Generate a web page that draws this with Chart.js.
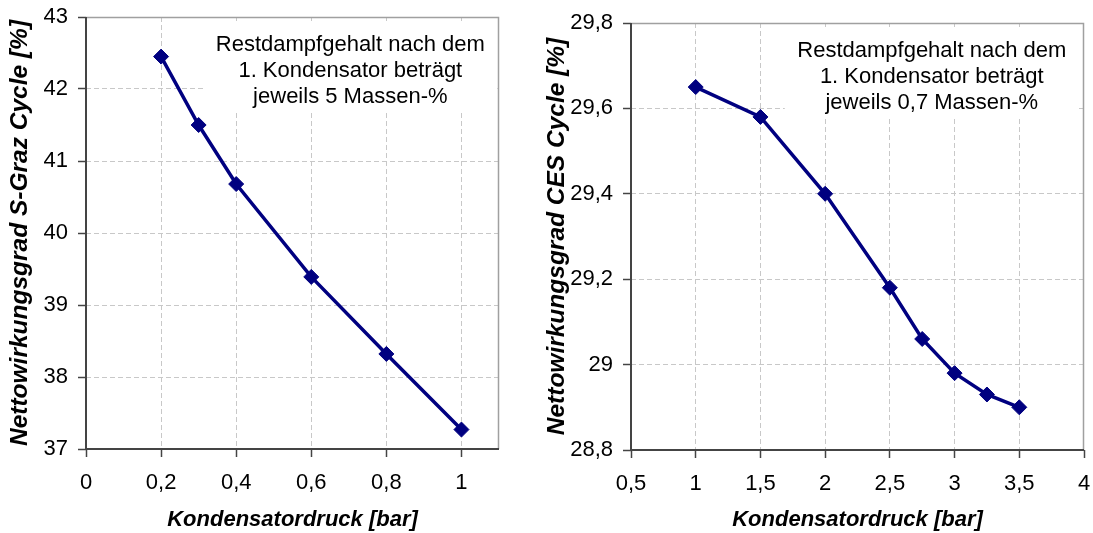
<!DOCTYPE html>
<html>
<head>
<meta charset="utf-8">
<script src="https://cdn.jsdelivr.net/npm/chart.js@4/dist/chart.umd.min.js"></script>
<style>
html,body{margin:0;padding:0;background:#fff;width:1093px;height:533px;overflow:hidden;}
#w1{position:absolute;left:0;top:0;width:545px;height:533px;}
#w2{position:absolute;left:545px;top:0;width:548px;height:533px;}
</style>
</head>
<body>
<div id="w1"><canvas id="c1" width="545" height="533"></canvas></div>
<div id="w2"><canvas id="c2" width="548" height="533"></canvas></div>
<script>
// ---- Data ----
const leftPressure = [0.2, 0.3, 0.4, 0.6, 0.8, 1.0];
const leftEfficiency = [42.45, 41.50, 40.68, 39.39, 38.32, 37.27];
const leftXTicks = [0, 0.2, 0.4, 0.6, 0.8, 1.0];
const leftYTicks = [37, 38, 39, 40, 41, 42, 43];
const leftYTitle = 'Nettowirkungsgrad S-Graz Cycle [%]';
const leftNote = ['Restdampfgehalt nach dem', '1. Kondensator beträgt', 'jeweils 5 Massen-%'];

const rightPressure = [1.0, 1.5, 2.0, 2.5, 2.75, 3.0, 3.25, 3.5];
const rightEfficiency = [29.65, 29.58, 29.40, 29.18, 29.06, 28.98, 28.93, 28.90];
const rightXTicks = [0.5, 1, 1.5, 2, 2.5, 3, 3.5, 4];
const rightYTicks = [28.8, 29.0, 29.2, 29.4, 29.6, 29.8];
const rightYTitle = 'Nettowirkungsgrad CES Cycle [%]';
const rightNote = ['Restdampfgehalt nach dem', '1. Kondensator beträgt', 'jeweils 0,7 Massen-%'];

const xTitle = 'Kondensatordruck [bar]';

Chart.defaults.font.family = "'Liberation Sans', Arial, sans-serif";
Chart.defaults.color = '#000';

const fmt = v => String(Math.round(v * 100) / 100).replace('.', ',');

const framePlugin = {
  id: 'frameNote',
  beforeDatasetsDraw(chart, args, opts) {
    const {ctx, chartArea: a} = chart;
    ctx.save();
    const cx = a.left + (a.right - a.left) * opts.cx;
    ctx.fillStyle = '#fff';
    ctx.fillRect(cx - 147, a.top + 4, 294, 92);
    ctx.setLineDash([]);
    ctx.lineWidth = 1.5;
    ctx.strokeStyle = '#a0a0a0';
    ctx.beginPath();
    ctx.moveTo(a.left, a.top + 0.5); ctx.lineTo(a.right - 0.5, a.top + 0.5); ctx.lineTo(a.right - 0.5, a.bottom);
    ctx.stroke();
    ctx.strokeStyle = '#444';
    ctx.lineWidth = 2;
    ctx.beginPath();
    ctx.moveTo(a.left, a.top); ctx.lineTo(a.left, a.bottom); ctx.lineTo(a.right, a.bottom);
    ctx.stroke();
    ctx.fillStyle = '#000';
    ctx.font = "22px 'Liberation Sans', Arial, sans-serif";
    ctx.textAlign = 'center';
    ctx.textBaseline = 'alphabetic';
    opts.lines.forEach((t, i) => ctx.fillText(t, cx, a.top + 34 + i * 26));
    ctx.restore();
  }
};

function makeChart(id, xs, ys, xTicks, yTicks, yTitle, note, cxFrac, pad, xh) {
  const xmin = xTicks[0], ymin = yTicks[0], ymax = yTicks[yTicks.length - 1];
  const xmax = pad.xmax;
  const gridColor = (c, min, max) => {
    const v = c.tick ? c.tick.value : null;
    if (v === null || Math.abs(v - min) < 1e-9 || Math.abs(v - max) < 1e-9) return 'rgba(0,0,0,0)';
    return '#c8c8c8';
  };
  return new Chart(document.getElementById(id), {
    type: 'line',
    data: {
      datasets: [{
        data: xs.map((x, i) => ({x: x, y: ys[i]})),
        borderColor: '#000080',
        backgroundColor: '#000080',
        borderWidth: 3.5,
        pointStyle: 'rectRot',
        pointRadius: 7.5,
        pointHoverRadius: 7.5,
        pointBorderWidth: 1,
        tension: 0
      }]
    },
    options: {
      responsive: false,
      animation: false,
      events: [],
      layout: {padding: {top: pad.top, right: pad.right, bottom: 0, left: 0}},
      plugins: {
        legend: {display: false},
        tooltip: {enabled: false},
        frameNote: {lines: note, cx: cxFrac}
      },
      scales: {
        x: {
          type: 'linear',
          min: xmin, max: xmax,
          afterBuildTicks: s => { s.ticks = xTicks.map(v => ({value: v})); },
          afterFit: s => { s.height = xh; s.paddingLeft = 0; s.paddingRight = 0; },
          ticks: {callback: v => fmt(v), font: {size: 22}, color: '#000', padding: 13, maxRotation: 0, autoSkip: false},
          grid: {color: c => gridColor(c, xmin, xmax), tickColor: '#444', tickLength: 8, tickWidth: 1.5, lineWidth: 1},
          border: {display: false, dash: [5, 3]},
          title: {display: true, text: xTitle, font: {size: 22, weight: 'bold', style: 'italic'}, color: '#000', padding: {top: 0, bottom: 0}}
        },
        y: {
          type: 'linear',
          min: ymin, max: ymax,
          afterBuildTicks: s => { s.ticks = yTicks.map(v => ({value: v})); },
          afterFit: s => { s.width = 86; s.paddingTop = 0; s.paddingBottom = 0; },
          ticks: {callback: v => fmt(v), font: {size: 22}, color: '#000', padding: 10},
          grid: {color: c => gridColor(c, ymin, ymax), tickColor: '#444', tickLength: 8, tickWidth: 1.5, lineWidth: 1},
          border: {display: false, dash: [5, 3]},
          title: {display: true, text: yTitle, font: {size: 24.5, weight: 'bold', style: 'italic'}, color: '#000', padding: {top: pad.yt, bottom: 0}}
        }
      }
    },
    plugins: [framePlugin]
  });
}

makeChart('c1', leftPressure, leftEfficiency, leftXTicks, leftYTicks, leftYTitle, leftNote, 0.640, {top: 17, right: 46, xmax: 1.1, yt: 6}, 84);
makeChart('c2', rightPressure, rightEfficiency, rightXTicks, rightYTicks, rightYTitle, rightNote, 0.664, {top: 23, right: 9, xmax: 4, yt: -2}, 83);
</script>
</body>
</html>
